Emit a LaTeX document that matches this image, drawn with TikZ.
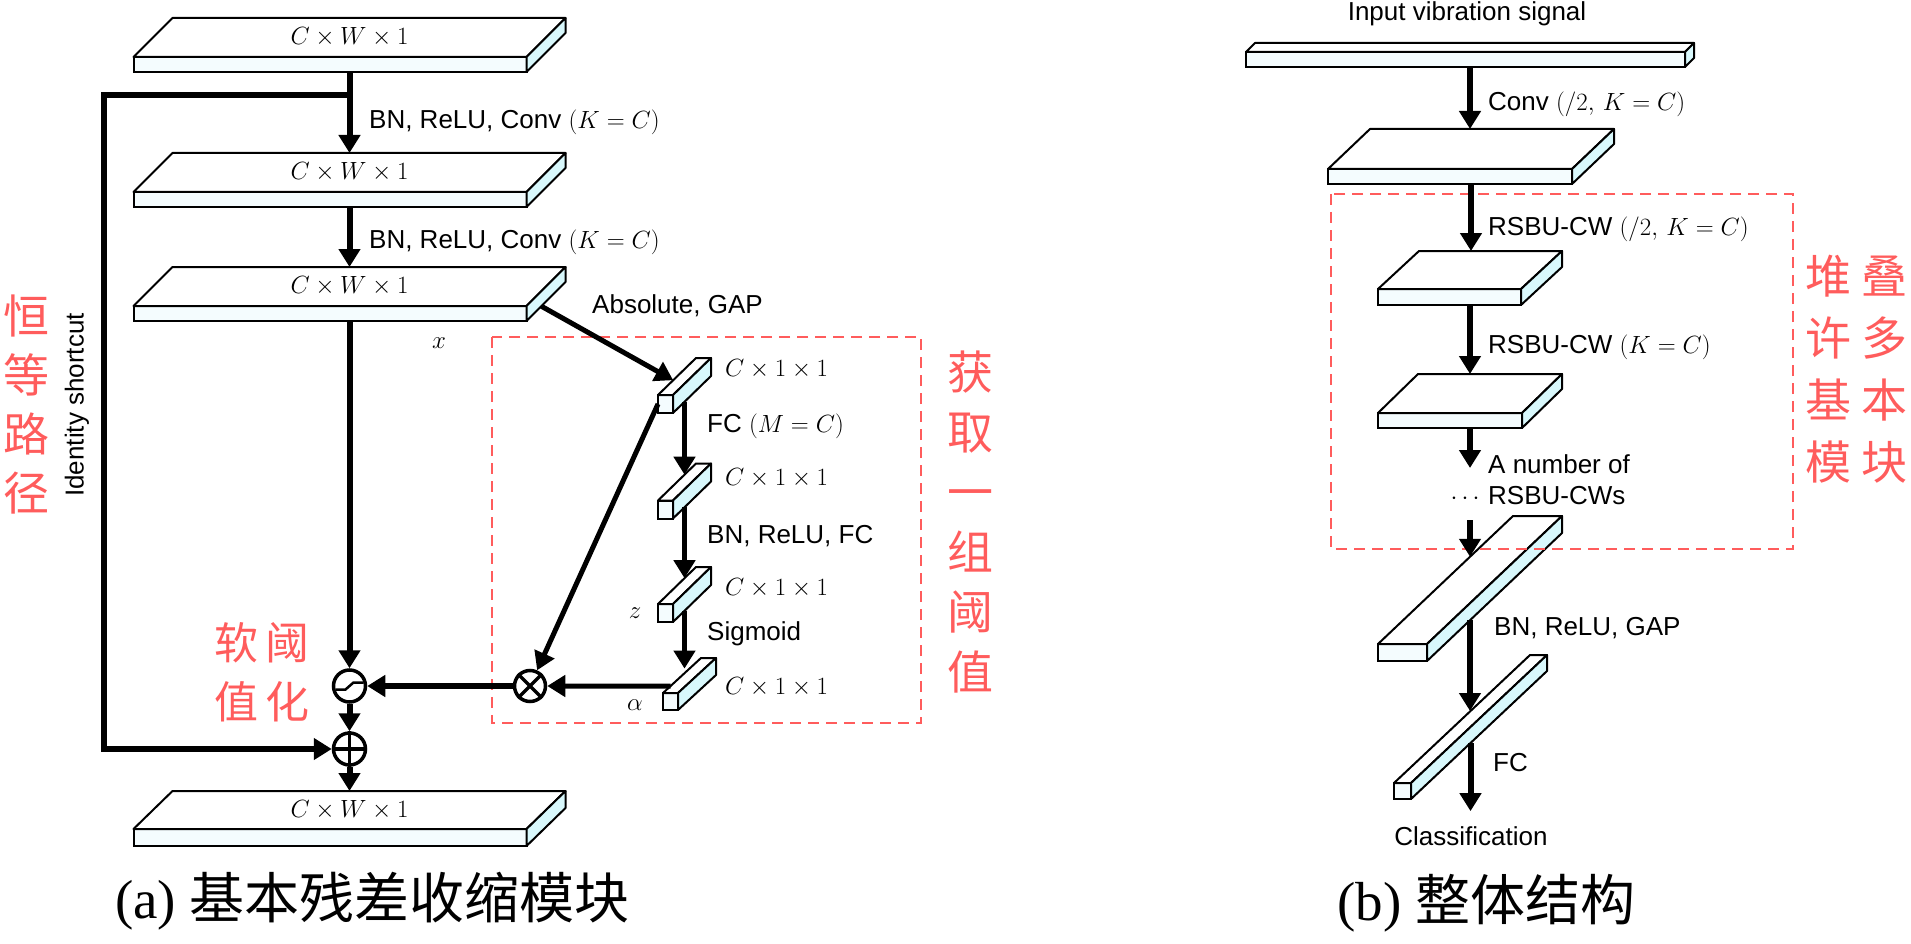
\documentclass[tikz,border=0pt]{standalone}
\usepackage{fontspec}
\setmainfont{Liberation Serif}
\setsansfont{Liberation Sans}
\newfontfamily\cjk{Noto Sans CJK SC}
\usepackage{tikz}
\usetikzlibrary{arrows.meta, calc, positioning}
\definecolor{frontc}{HTML}{F4FCFE}
\definecolor{sidec}{HTML}{D8F8FC}
\definecolor{hl}{HTML}{FF5C5C}

% flat feature map: name, x, y, width, height, dx, dy
\newcommand{\featmap}[7]{%
  \node[front, minimum width=#4pt, minimum height=#5pt] (#1) at (#2,#3) {};
  \draw[face, fill=white] (#1.north west) -- ++(#6,#7) -- ++(#4,0) -- (#1.north east) -- cycle;
  \draw[face, fill=sidec] (#1.north east) -- ++(#6,#7) -- ++(0,#5) -- (#1.south east) -- cycle;
  \coordinate (#1-in) at ($(#1.north)+(#6/2,#7)$);
  \coordinate (#1-out) at ($(#1.south)+(#6/2,0)$);
  \coordinate (#1-top) at ($(#1.north)+(#6/2,#7/2)$);
  \coordinate (#1-seb) at ($(#1.south east)+(#6,#7)$);
}
% thin vector bar: name, x, y, width, height, dx, dy
\newcommand{\featvec}[7]{%
  \node[front, minimum width=#4pt, minimum height=#5pt] (#1) at (#2,#3) {};
  \draw[face, fill=white] (#1.north west) -- ++(#6,#7) -- ++(#4,0) -- (#1.north east) -- cycle;
  \draw[face, fill=sidec] (#1.north east) -- ++(#6,#7) -- ++(0,#5) -- (#1.south east) -- cycle;
  \coordinate (#1-nwb) at ($(#1.north west)+(#6,#7)$);
  \coordinate (#1-seb) at ($(#1.south east)+(#6,#7)$);
  \pgfmathsetmacro\tin{(#6+#4)/(2*#6)}
  \pgfmathsetmacro\tout{(#6-#4)/(2*#6)}
  \coordinate (#1-in) at ($(#1.north west)!\tin!(#1-nwb)$);
  \coordinate (#1-out) at ($(#1.south east)!\tout!(#1-seb)$);
}

\begin{document}
\begin{tikzpicture}[x=1pt, y=-1pt, >={Triangle[length=18pt, width=21pt]}]
  \tikzstyle{front}=[rectangle, draw, line width=2pt, fill=frontc, inner sep=0pt, outer sep=0pt]
  \tikzstyle{face}=[draw, line width=2pt, line join=round]
  \tikzstyle{arr}=[->, line width=6pt]
  \tikzstyle{arrs}=[->, line width=5pt]
  \tikzstyle{lbl}=[font=\sffamily\fontsize{26}{30}\selectfont, inner sep=0pt]
  \tikzstyle{sz}=[font=\fontsize{26}{30}\selectfont, inner sep=0pt]
  \tikzstyle{op}=[circle, draw, line width=3.5pt, fill=white, minimum size=32pt, inner sep=0pt]
  \tikzstyle{grp}=[draw=hl, line width=1.8pt, dash pattern=on 11pt off 7pt]
  \tikzstyle{hltxt}=[text=hl, align=center, inner sep=0pt]
  \useasboundingbox (0,0) rectangle (1911,944);

  % (a) building unit
  \featmap{b1}{330}{64.5}{393}{15}{39}{-39}
  \featmap{b2}{330}{199.5}{393}{15}{39}{-39}
  \featmap{b3}{330}{313.5}{393}{15}{39}{-39}
  \featmap{b4}{330}{837.5}{393}{17}{39}{-38}
  \foreach \b in {b1,b2,b3,b4}
    \node[sz] (\b-lbl) at (\b-top) {$C\times W\times 1$};

  \featvec{s1}{665.5}{404}{15}{18}{38}{-37}
  \featvec{s2}{665.5}{509.5}{15}{18}{38}{-37}
  \featvec{s3}{665.5}{613}{15}{18}{38}{-37}
  \featvec{s4}{670.5}{701.5}{15}{17}{38}{-35}
  \foreach \s/\y in {s1/369, s2/478, s3/588, s4/687}
    \node[sz, anchor=west] (\s-lbl) at (725,\y) {$C\times 1\times 1$};

  \draw[grp] (492,337) rectangle (921,723);

  \node[op] (soft) at (349.5,686) {};
  \draw[line width=2.5pt] ($(soft)+(-14,3.5)$) -- ($(soft)+(-4,3.5)$) -- ($(soft)+(4,-3.5)$) -- ($(soft)+(14,-3.5)$);
  \node[op] (add) at (349.5,749) {};
  \draw[line width=3.5pt] (add.north) -- (add.south) (add.west) -- (add.east);
  \node[op, minimum size=31pt] (mul) at (530,686) {};
  \draw[line width=3.5pt] (mul.north west) -- (mul.south east) (mul.north east) -- (mul.south west);

  \draw[arr] (b1-out) -- (b2-in);
  \draw[arr] (b2-out) -- (b3-in);
  \draw[arr] (b3-out) -- (soft);
  \draw[arr] (soft) -- (add);
  \draw[arr] (add) -- (b4-in);
  \coordinate (split) at ($(b1-out)+(0,23)$);
  \coordinate (sc) at (104,749);
  \draw[arr] (split) -| (sc) -- (add);

  \draw[arrs] ($(b3.south east)!0.38!(b3-seb)$) -- ($(s1.north west)!0.4!(s1-nwb)$);
  \draw[arrs] (s1-out) -- (s1-out |- s2-in);
  \draw[arrs] (s2-out) -- (s2-out |- s3-in);
  \draw[arrs] (s3-out) -- (s3-out |- s4-in);
  \draw[arrs] (s1.west) -- (mul);
  \draw[arrs] ($(s4.north west)!0.2!(s4-nwb)$) -- (mul);
  \draw[arr] (mul) -- (soft);

  \node[lbl, anchor=base west] (l1) at (369,129) {BN, ReLU, Conv $(K=C)$};
  \node[lbl, anchor=base west] (l2) at (369,248) {BN, ReLU, Conv $(K=C)$};
  \node[lbl, anchor=base west] (l3) at (592,313) {Absolute, GAP};
  \node[sz] (xlbl) at (439,343) {$x$};
  \node[lbl, anchor=base west] (l4) at (707,432) {FC $(M=C)$};
  \node[lbl, anchor=base west] (l5) at (707,543) {BN, ReLU, FC};
  \node[lbl, anchor=base west] (l6) at (707,640) {Sigmoid};
  \node[sz] (zlbl) at (635,613) {$z$};
  \node[sz] (albl) at (635,705) {$\alpha$};
  \node[lbl, rotate=90] (idlbl) at (77,405) {Identity shortcut};

  \node[hltxt, font=\cjk\fontsize{46}{59}\selectfont] (hl1) at (26,405) {恒\\等\\路\\径};
  \node[hltxt, font=\cjk\fontsize{44}{59}\selectfont] (hl2) at (262,672.5) {软\hspace{8pt}阈\\值\hspace{8pt}化};
  \node[hltxt, font=\cjk\fontsize{46}{60}\selectfont] (hl3) at (970,522) {获\\取\\一\\组\\阈\\值};

  \node[anchor=base west, inner sep=0pt, font=\fontsize{55}{60}\selectfont] (capa) at (115,918) {(a) {\cjk 基本残差收缩模块}};

  % (b) overall structure
  \featmap{r0}{1465.5}{59.5}{439}{15}{9}{-9}
  \featmap{r1}{1450}{176.5}{244}{15}{42}{-40}
  \featmap{r2}{1449.5}{297}{143}{16}{41}{-38}
  \featmap{r3}{1450}{420.5}{144}{15}{40}{-39}
  \featvec{d1}{1402.5}{652.5}{49}{17}{135}{-128}
  \featvec{d2}{1402.5}{791}{17}{16}{136}{-128}

  \draw[grp] (1331,194) rectangle (1793,549);

  \node[lbl, anchor=base] (inp) at (1467,21) {Input vibration signal};
  \node[lbl, anchor=base, outer ysep=15pt] (cls) at (1471,845) {Classification};
  \coordinate (more1) at (1470,468);
  \coordinate (more2) at (1470,520);

  \draw[arr] (r0-out) -- (r0-out |- r1-in);
  \draw[arr] (r1-out) -- (r1-out |- r2-in);
  \draw[arr] (r2-out) -- (r2-out |- r3-in);
  \draw[arr] (r3-out) -- (r3-out |- more1);
  \draw[arr] (more2) -- (more2 |- d1-in);
  \draw[arr] (d1-out) -- (d1-out |- d2-in);
  \draw[arr] (d2-out) -- (d2-out |- cls.north);

  \node[lbl, anchor=base west] (r1-lbl) at (1488,111) {Conv $(/2,\,K=C)$};
  \node[lbl, anchor=base west] (r2-lbl) at (1488,235) {RSBU-CW $(/2,\,K=C)$};
  \node[lbl, anchor=base west] (r3-lbl) at (1488,353) {RSBU-CW $(K=C)$};
  \node[lbl, anchor=base west] (m1-lbl) at (1488,473) {A number of};
  \node[lbl, anchor=base west] (m2-lbl) at (1488,504) {\llap{$\cdots$\,\,}RSBU-CWs};
  \node[lbl, anchor=base west] (d1-lbl) at (1494,635) {BN, ReLU, GAP};
  \node[lbl, anchor=base west] (d2-lbl) at (1493,771) {FC};

  \node[hltxt, font=\cjk\fontsize{46}{62}\selectfont] (hl4) at (1856,369) {堆\hspace{10pt}叠\\许\hspace{10pt}多\\基\hspace{10pt}本\\模\hspace{10pt}块};

  \node[anchor=base west, inner sep=0pt, font=\fontsize{55}{60}\selectfont] (capb) at (1337,920) {(b) {\cjk 整体结构}};
\end{tikzpicture}
\end{document}
